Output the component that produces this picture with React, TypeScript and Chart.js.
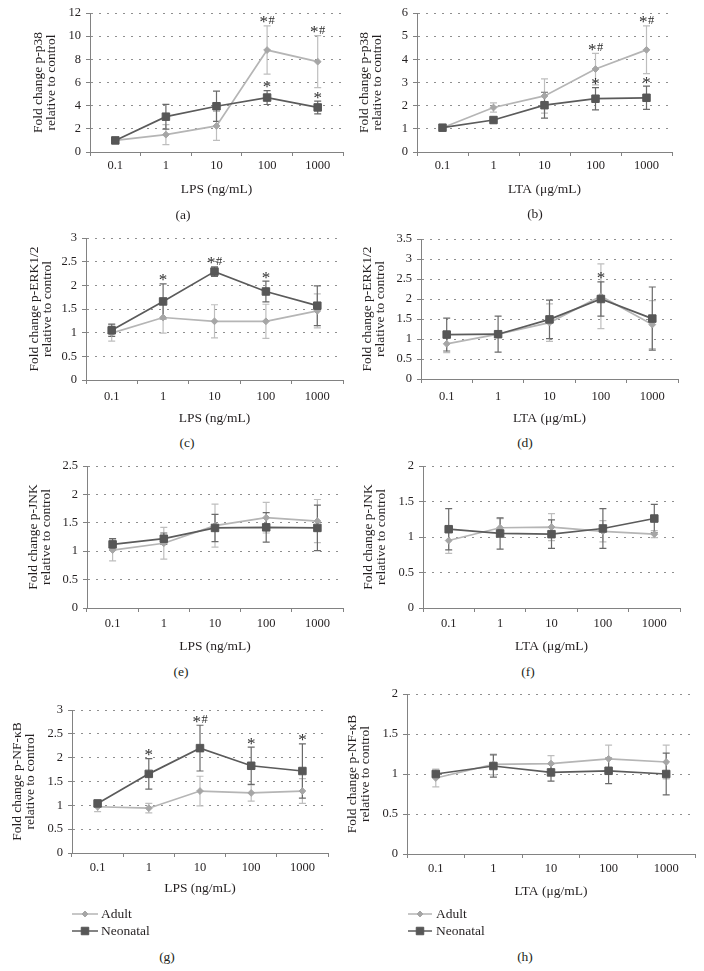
import React, { useEffect, useRef } from 'react';
import { Chart, registerables } from 'chart.js';

Chart.register(...registerables);

const FONT = "'Liberation Serif', 'Times New Roman', serif";
const TEXT = '#231f20';
const AXIS = '#828282';
const GRID = '#8f8f8f';
const ADULT_LINE = '#b5b5b5';
const ADULT_MARK = '#a6a6a6';
const ADULT_ERR = '#bebebe';
const NEO_LINE = '#5b5b5b';
const NEO_MARK = '#575757';
const NEO_ERR = '#6a6a6a';

// ---- shared categories / labels ----
const lpsDoses = ['0.1', '1', '10', '100', '1000'];
const ltaDoses = ['0.1', '1', '10', '100', '1000'];
const lpsTitle = 'LPS (ng/mL)';
const ltaTitle = 'LTA (μg/mL)';
const seriesNames = ['Adult', 'Neonatal'];
const panelCaptions = ['(a)', '(b)', '(c)', '(d)', '(e)', '(f)', '(g)', '(h)'];

// ---- (a) LPS p-p38 ----
const yTicksA = [0, 2, 4, 6, 8, 10, 12];
const adultA = [1.0, 1.5, 2.25, 8.8, 7.8];
const adultErrA = [0.08, 0.86, 1.25, 2.08, 2.24];
const neoA = [1.0, 3.05, 3.95, 4.7, 3.85];
const neoErrA = [0.05, 1.07, 1.3, 0.6, 0.55];
const adultSigA = ['', '', '', '*#', '*#'];
const neoSigA = ['', '', '', '*', '*'];

// ---- (b) LTA p-p38 ----
const yTicksB = [0, 1, 2, 3, 4, 5, 6];
const adultB = [1.05, 1.92, 2.42, 3.58, 4.41];
const adultErrB = [0.1, 0.2, 0.74, 0.68, 1.03];
const neoB = [1.05, 1.38, 2.02, 2.3, 2.34];
const neoErrB = [0.08, 0.12, 0.56, 0.48, 0.5];
const adultSigB = ['', '', '', '*#', '*#'];
const neoSigB = ['', '', '', '*', '*'];

// ---- (c) LPS p-ERK1/2 ----
const yTicksC = [0, 0.5, 1, 1.5, 2, 2.5, 3];
const adultC = [0.99, 1.32, 1.24, 1.24, 1.46];
const adultErrC = [0.17, 0.33, 0.35, 0.36, 0.36];
const neoC = [1.05, 1.66, 2.29, 1.87, 1.57];
const neoErrC = [0.13, 0.37, 0.1, 0.22, 0.42];
const adultSigC = ['', '', '', '', ''];
const neoSigC = ['', '*', '*#', '*', ''];

// ---- (d) LTA p-ERK1/2 ----
const yTicksD = [0, 0.5, 1, 1.5, 2, 2.5, 3, 3.5];
const adultD = [0.88, 1.12, 1.41, 2.07, 1.36];
const adultErrD = [0.22, 0.05, 0.47, 0.81, 0.6];
const neoD = [1.11, 1.12, 1.49, 2.0, 1.51];
const neoErrD = [0.41, 0.45, 0.48, 0.43, 0.79];
const adultSigD = ['', '', '', '', ''];
const neoSigD = ['', '', '', '*', ''];

// ---- (e) LPS p-JNK ----
const yTicksE = [0, 0.5, 1, 1.5, 2, 2.5];
const adultE = [1.02, 1.14, 1.45, 1.59, 1.53];
const adultErrE = [0.19, 0.28, 0.38, 0.27, 0.38];
const neoE = [1.12, 1.22, 1.41, 1.42, 1.41];
const neoErrE = [0.1, 0.1, 0.24, 0.26, 0.4];
const adultSigE = ['', '', '', '', ''];
const neoSigE = ['', '', '', '', ''];

// ---- (f) LTA p-JNK ----
const yTicksF = [0, 0.5, 1, 1.5, 2];
const adultF = [0.95, 1.13, 1.14, 1.08, 1.04];
const adultErrF = [0.18, 0.13, 0.19, 0.15, 0.05];
const neoF = [1.11, 1.05, 1.04, 1.12, 1.26];
const neoErrF = [0.29, 0.22, 0.2, 0.28, 0.2];
const adultSigF = ['', '', '', '', ''];
const neoSigF = ['', '', '', '', ''];

// ---- (g) LPS p-NF-κB ----
const yTicksG = [0, 0.5, 1, 1.5, 2, 2.5, 3];
const adultG = [0.97, 0.94, 1.3, 1.26, 1.3];
const adultErrG = [0.1, 0.1, 0.31, 0.17, 0.26];
const neoG = [1.04, 1.66, 2.2, 1.83, 1.72];
const neoErrG = [0.05, 0.32, 0.48, 0.39, 0.57];
const adultSigG = ['', '', '', '', ''];
const neoSigG = ['', '*', '*#', '*', '*'];

// ---- (h) LTA p-NF-κB ----
const yTicksH = [0, 0.5, 1, 1.5, 2];
const adultH = [0.95, 1.12, 1.13, 1.19, 1.15];
const adultErrH = [0.11, 0.13, 0.1, 0.17, 0.21];
const neoH = [1.0, 1.1, 1.02, 1.04, 1.0];
const neoErrH = [0.03, 0.14, 0.11, 0.16, 0.26];
const adultSigH = ['', '', '', '', ''];
const neoSigH = ['', '', '', '', ''];

type Box = { x: number; y: number; w: number; h: number };
type Area = { l: number; t: number; r: number; b: number };
type PanelCfg = {
  key: string;
  box: Box;
  area: Area;
  tickY: number;
  xTitleY: number;
  yLine1X: number;
  labels: string[];
  xTitle: string;
  yTitle: string[];
  yTicks: number[];
  adult: number[];
  adultErr: number[];
  neo: number[];
  neoErr: number[];
  adultSig: string[];
  neoSig: string[];
  legend?: { x1: number; x2: number; tx: number; y: number[] };
  caption: { text: string; x: number; y: number };
};

const panels: PanelCfg[] = [
  {
    key: 'a', box: { x: 0, y: 0, w: 352, h: 205 }, area: { l: 90, t: 13, r: 343, b: 152 },
    tickY: 166, xTitleY: 189, yLine1X: 38, labels: lpsDoses, xTitle: lpsTitle,
    yTitle: ['Fold change p-p38', 'relative to control'], yTicks: yTicksA,
    adult: adultA, adultErr: adultErrA, neo: neoA, neoErr: neoErrA, adultSig: adultSigA, neoSig: neoSigA,
    caption: { text: panelCaptions[0], x: 183, y: 215 },
  },
  {
    key: 'b', box: { x: 352, y: 0, w: 352, h: 205 }, area: { l: 417, t: 13, r: 672, b: 152 },
    tickY: 166, xTitleY: 189, yLine1X: 364, labels: ltaDoses, xTitle: ltaTitle,
    yTitle: ['Fold change p-p38', 'relative to control'], yTicks: yTicksB,
    adult: adultB, adultErr: adultErrB, neo: neoB, neoErr: neoErrB, adultSig: adultSigB, neoSig: neoSigB,
    caption: { text: panelCaptions[1], x: 535, y: 214 },
  },
  {
    key: 'c', box: { x: 0, y: 222, w: 352, h: 210 }, area: { l: 86, t: 238, r: 343, b: 380 },
    tickY: 397, xTitleY: 418, yLine1X: 34, labels: lpsDoses, xTitle: lpsTitle,
    yTitle: ['Fold change p-ERK1/2', 'relative to control'], yTicks: yTicksC,
    adult: adultC, adultErr: adultErrC, neo: neoC, neoErr: neoErrC, adultSig: adultSigC, neoSig: neoSigC,
    caption: { text: panelCaptions[2], x: 187, y: 443 },
  },
  {
    key: 'd', box: { x: 352, y: 222, w: 352, h: 210 }, area: { l: 421, t: 239, r: 678, b: 379 },
    tickY: 397, xTitleY: 418, yLine1X: 367, labels: ltaDoses, xTitle: ltaTitle,
    yTitle: ['Fold change p-ERK1/2', 'relative to control'], yTicks: yTicksD,
    adult: adultD, adultErr: adultErrD, neo: neoD, neoErr: neoErrD, adultSig: adultSigD, neoSig: neoSigD,
    caption: { text: panelCaptions[3], x: 525, y: 443 },
  },
  {
    key: 'e', box: { x: 0, y: 452, w: 352, h: 210 }, area: { l: 87, t: 466, r: 343, b: 608 },
    tickY: 624, xTitleY: 646, yLine1X: 33, labels: lpsDoses, xTitle: lpsTitle,
    yTitle: ['Fold change p-JNK', 'relative to control'], yTicks: yTicksE,
    adult: adultE, adultErr: adultErrE, neo: neoE, neoErr: neoErrE, adultSig: adultSigE, neoSig: neoSigE,
    caption: { text: panelCaptions[4], x: 181, y: 672 },
  },
  {
    key: 'f', box: { x: 352, y: 452, w: 352, h: 210 }, area: { l: 423, t: 466, r: 680, b: 608 },
    tickY: 624, xTitleY: 646, yLine1X: 368, labels: ltaDoses, xTitle: ltaTitle,
    yTitle: ['Fold change p-JNK', 'relative to control'], yTicks: yTicksF,
    adult: adultF, adultErr: adultErrF, neo: neoF, neoErr: neoErrF, adultSig: adultSigF, neoSig: neoSigF,
    caption: { text: panelCaptions[5], x: 528, y: 672 },
  },
  {
    key: 'g', box: { x: 0, y: 690, w: 340, h: 255 }, area: { l: 72, t: 710, r: 328, b: 853 },
    tickY: 868, xTitleY: 888, yLine1X: 17, labels: lpsDoses, xTitle: lpsTitle,
    yTitle: ['Fold change p-NF-κB', 'relative to control'], yTicks: yTicksG,
    adult: adultG, adultErr: adultErrG, neo: neoG, neoErr: neoErrG, adultSig: adultSigG, neoSig: neoSigG,
    legend: { x1: 72, x2: 98, tx: 101, y: [914, 931] },
    caption: { text: panelCaptions[6], x: 167, y: 957 },
  },
  {
    key: 'h', box: { x: 340, y: 680, w: 364, h: 265 }, area: { l: 407, t: 694, r: 695, b: 854 },
    tickY: 869, xTitleY: 891, yLine1X: 352, labels: ltaDoses, xTitle: ltaTitle,
    yTitle: ['Fold change p-NF-κB', 'relative to control'], yTicks: yTicksH,
    adult: adultH, adultErr: adultErrH, neo: neoH, neoErr: neoErrH, adultSig: adultSigH, neoSig: neoSigH,
    legend: { x1: 408, x2: 432, tx: 436, y: [914, 931] },
    caption: { text: panelCaptions[7], x: 525, y: 957 },
  },
];

const ADULT_R = 3.4;
const NEO_R = 5.3;

function drawMarker(ctx: CanvasRenderingContext2D, style: string, x: number, y: number, r: number, color: string) {
  ctx.save();
  ctx.fillStyle = color;
  ctx.strokeStyle = color;
  ctx.lineWidth = 1;
  ctx.beginPath();
  if (style === 'rectRot') {
    ctx.moveTo(x, y - r);
    ctx.lineTo(x + r, y);
    ctx.lineTo(x, y + r);
    ctx.lineTo(x - r, y);
    ctx.closePath();
  } else {
    const s = Math.SQRT1_2 * r;
    ctx.rect(x - s, y - s, 2 * s, 2 * s);
  }
  ctx.fill();
  ctx.stroke();
  ctx.restore();
}

// draws "*", "#" glyphs with their visual centres on the line cy, centred on cx
function drawSignificance(ctx: CanvasRenderingContext2D, text: string, cx: number, cy: number) {
  const chars = text.split('');
  const fonts = chars.map((ch) => (ch === '*' ? `17px ${FONT}` : `12.5px ${FONT}`));
  const widths = chars.map((ch, i) => {
    ctx.font = fonts[i];
    return ctx.measureText(ch).width;
  });
  const gap = 0.5;
  const total = widths.reduce((a, b) => a + b, 0) + gap * (chars.length - 1);
  let x = cx - total / 2;
  chars.forEach((ch, i) => {
    ctx.font = fonts[i];
    const m = ctx.measureText(ch);
    const asc = m.actualBoundingBoxAscent || 0;
    const desc = m.actualBoundingBoxDescent || 0;
    const baseline = cy + (asc - desc) / 2;
    ctx.fillText(ch, x, baseline);
    x += widths[i] + gap;
  });
}

function buildConfig(p: PanelCfg): any {
  const TITLE_SIZE = 13.5;
  const TICK_SIZE = 12.5;
  const padTop = p.area.t - p.box.y;
  const padRight = p.box.x + p.box.w - p.area.r;
  const yWidth = p.area.l - p.box.x;
  const xHeight = p.xTitleY + TITLE_SIZE / 2 - p.area.b;
  const padBottom = p.box.y + p.box.h - p.area.b - xHeight;
  const tickPad = p.tickY - p.area.b - 4 - (TICK_SIZE * 1.2) / 2;

  const groups = [
    { v: p.adult, e: p.adultErr, c: ADULT_ERR, sig: p.adultSig },
    { v: p.neo, e: p.neoErr, c: NEO_ERR, sig: p.neoSig },
  ];

  const extras = {
    id: 'extras_' + p.key,
    beforeDatasetsDraw(chart: any) {
      const ctx = chart.ctx as CanvasRenderingContext2D;
      const xs = chart.scales.x;
      const ys = chart.scales.y;
      ctx.save();
      ctx.lineWidth = 1.2;
      groups.forEach((g) => {
        ctx.strokeStyle = g.c;
        g.v.forEach((v, i) => {
          const x = xs.getPixelForValue(i);
          const y1 = ys.getPixelForValue(v + g.e[i]);
          const y2 = ys.getPixelForValue(v - g.e[i]);
          ctx.beginPath();
          ctx.moveTo(x, y1);
          ctx.lineTo(x, y2);
          ctx.moveTo(x - 3.5, y1);
          ctx.lineTo(x + 3.5, y1);
          ctx.moveTo(x - 3.5, y2);
          ctx.lineTo(x + 3.5, y2);
          ctx.stroke();
        });
      });
      ctx.restore();
    },
    afterDatasetsDraw(chart: any) {
      const ctx = chart.ctx as CanvasRenderingContext2D;
      const xs = chart.scales.x;
      const ys = chart.scales.y;
      ctx.save();
      ctx.fillStyle = '#2e2e2e';
      ctx.textAlign = 'left';
      ctx.textBaseline = 'alphabetic';
      groups.forEach((g) => {
        g.v.forEach((v, i) => {
          const s = g.sig[i];
          if (!s) return;
          const x = xs.getPixelForValue(i);
          const y = ys.getPixelForValue(v + g.e[i]) - 6;
          drawSignificance(ctx, s, x, y);
        });
      });
      ctx.restore();
    },
    afterDraw(chart: any) {
      if (!p.legend) return;
      const ctx = chart.ctx as CanvasRenderingContext2D;
      const lg = p.legend;
      const items = [
        { label: seriesNames[0], line: ADULT_LINE, mark: ADULT_MARK, style: 'rectRot', r: ADULT_R - 0.4 },
        { label: seriesNames[1], line: NEO_LINE, mark: NEO_MARK, style: 'rect', r: NEO_R },
      ];
      ctx.save();
      items.forEach((it, k) => {
        const y = lg.y[k] - p.box.y;
        const x1 = lg.x1 - p.box.x;
        const x2 = lg.x2 - p.box.x;
        ctx.strokeStyle = it.line;
        ctx.lineWidth = 1.5;
        ctx.beginPath();
        ctx.moveTo(x1, y);
        ctx.lineTo(x2, y);
        ctx.stroke();
        drawMarker(ctx, it.style, (x1 + x2) / 2, y, it.r, it.mark);
        ctx.font = `13.5px ${FONT}`;
        ctx.fillStyle = TEXT;
        ctx.textAlign = 'left';
        ctx.textBaseline = 'middle';
        ctx.fillText(it.label, lg.tx - p.box.x, y);
      });
      ctx.restore();
    },
  };

  return {
    type: 'line',
    data: {
      labels: p.labels,
      datasets: [
        {
          label: seriesNames[0],
          data: p.adult,
          borderColor: ADULT_LINE,
          backgroundColor: ADULT_MARK,
          borderWidth: 1.7,
          pointStyle: 'rectRot',
          pointRadius: ADULT_R,
          pointBorderWidth: 1,
          pointBackgroundColor: ADULT_MARK,
          pointBorderColor: ADULT_MARK,
          tension: 0,
          order: 2,
        },
        {
          label: seriesNames[1],
          data: p.neo,
          borderColor: NEO_LINE,
          backgroundColor: NEO_MARK,
          borderWidth: 1.7,
          pointStyle: 'rect',
          pointRadius: NEO_R,
          pointBorderWidth: 1,
          pointBackgroundColor: NEO_MARK,
          pointBorderColor: NEO_MARK,
          tension: 0,
          order: 1,
        },
      ],
    },
    options: {
      responsive: false,
      animation: false,
      devicePixelRatio: 1,
      events: [],
      layout: { padding: { top: padTop, right: padRight, bottom: padBottom, left: 0 } },
      plugins: { legend: { display: false }, tooltip: { enabled: false }, title: { display: false } },
      scales: {
        x: {
          type: 'category',
          offset: true,
          grid: {
            display: true,
            offset: true,
            drawOnChartArea: false,
            drawTicks: true,
            tickLength: 4,
            color: AXIS,
            tickColor: AXIS,
          },
          border: { display: true, color: AXIS, width: 1 },
          ticks: {
            font: { family: FONT, size: TICK_SIZE },
            color: TEXT,
            padding: tickPad,
            maxRotation: 0,
            autoSkip: false,
          },
          title: {
            display: true,
            text: p.xTitle,
            font: { family: FONT, size: TITLE_SIZE, lineHeight: 1 },
            color: TEXT,
            padding: { top: 0, bottom: 0 },
          },
          afterFit: (s: any) => {
            s.height = xHeight;
          },
        },
        y: {
          type: 'linear',
          min: p.yTicks[0],
          max: p.yTicks[p.yTicks.length - 1],
          afterBuildTicks: (s: any) => {
            s.ticks = p.yTicks.map((v) => ({ value: v }));
          },
          ticks: {
            callback: (v: any) => String(v),
            font: { family: FONT, size: TICK_SIZE },
            color: TEXT,
            padding: 5,
          },
          grid: {
            color: GRID,
            lineWidth: 1,
            drawTicks: true,
            tickLength: 4,
            tickColor: AXIS,
          },
          border: { display: true, color: AXIS, width: 1, dash: [2, 6] },
          title: {
            display: true,
            text: p.yTitle,
            font: { family: FONT, size: TITLE_SIZE, lineHeight: 1 },
            color: TEXT,
            padding: { top: p.yLine1X - p.box.x - TITLE_SIZE / 2, bottom: 0 },
          },
          afterFit: (s: any) => {
            s.width = yWidth;
          },
        },
      },
    },
    plugins: [extras],
  };
}

function Panel({ p }: { p: PanelCfg }) {
  const ref = useRef<HTMLCanvasElement | null>(null);
  useEffect(() => {
    if (!ref.current) return;
    const chart = new Chart(ref.current, buildConfig(p));
    return () => chart.destroy();
  }, [p]);
  return (
    <canvas
      ref={ref}
      width={p.box.w}
      height={p.box.h}
      style={{ position: 'absolute', left: p.box.x, top: p.box.y, width: p.box.w, height: p.box.h, display: 'block' }}
    />
  );
}

export default function App() {
  return (
    <div style={{ position: 'absolute', left: 0, top: 0, width: 704, height: 971, background: '#ffffff', overflow: 'hidden' }}>
      {panels.map((p) => (
        <Panel key={p.key} p={p} />
      ))}
      {panels.map((p) => (
        <div
          key={'cap' + p.key}
          style={{
            position: 'absolute',
            left: p.caption.x - 20,
            top: p.caption.y - 8,
            width: 40,
            height: 16,
            lineHeight: '16px',
            textAlign: 'center',
            fontFamily: FONT,
            fontSize: 13.5,
            color: TEXT,
          }}
        >
          {p.caption.text}
        </div>
      ))}
    </div>
  );
}
